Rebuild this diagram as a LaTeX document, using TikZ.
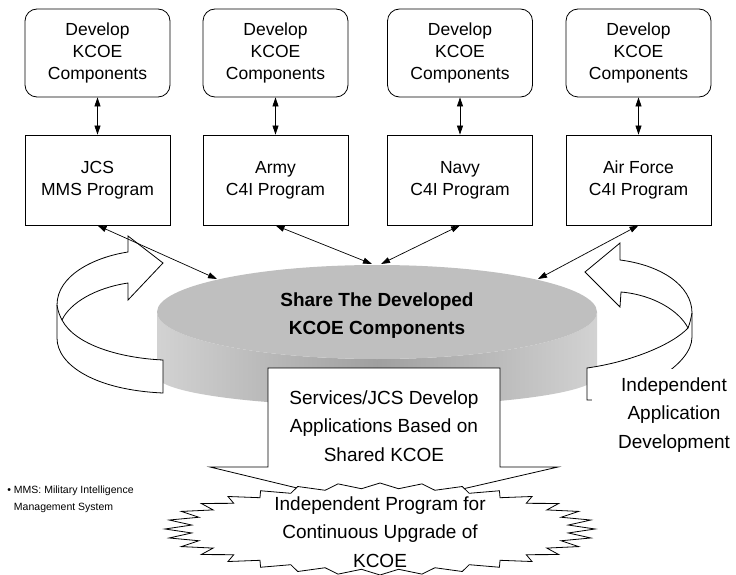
\documentclass[tikz,border=0pt]{standalone}
\usepackage{fontspec}
\setmainfont{Liberation Sans}
\usetikzlibrary{arrows.meta}

\tikzset{
  devbox/.style={draw, rounded corners=12pt, minimum width=145pt, minimum height=88pt, align=center, font=\fontsize{17.5}{22}\selectfont},
  progbox/.style={draw, minimum width=145pt, minimum height=90pt, align=center, font=\fontsize{17.5}{22}\selectfont},
  link/.style={<->, line width=0.7pt},
  ribbon/.style={draw, fill=white},
  bigtext/.style={align=center, font=\fontsize{19}{28.5}\selectfont},
}

\begin{document}
\begin{tikzpicture}[x=1pt, y=-1pt, line width=0.8pt, >={Triangle[length=9pt,width=6pt]}]
        \useasboundingbox (0,0) rectangle (736,575);
        \node[devbox] (dev1) at (97.5,53) {Develop\\KCOE\\Components};
        \node[devbox] (dev2) at (275.5,53) {Develop\\KCOE\\Components};
        \node[devbox] (dev3) at (460,53) {Develop\\KCOE\\Components};
        \node[devbox] (dev4) at (638.5,53) {Develop\\KCOE\\Components};
        \node[progbox] (jcs) at (97.5,180) {JCS\\MMS Program};
        \node[progbox] (army) at (275.5,180) {Army\\C4I Program};
        \node[progbox] (navy) at (460,180) {Navy\\C4I Program};
        \node[progbox] (af) at (638.5,180) {Air Force\\C4I Program};
        \draw[link] (dev1) -- (jcs);
        \draw[link] (dev2) -- (army);
        \draw[link] (dev3) -- (navy);
        \draw[link] (dev4) -- (af);
        % the shared disk
        \shade[left color=gray!35, right color=gray!35, middle color=gray!75] (157,312) -- (157,376) arc[start angle=180, end angle=360, x radius=220pt, y radius=30pt] -- (597,312) arc[start angle=360, end angle=180, x radius=220pt, y radius=47pt] -- cycle;
        \fill[gray!50] (377,312) ellipse[x radius=220pt, y radius=47pt];
        \node[align=center, font=\fontsize{19}{28}\selectfont\bfseries] (share) at (377,316) {Share The Developed\\KCOE Components};
        \coordinate (dj) at (217,279);
        \coordinate (da) at (372,264);
        \coordinate (dn) at (381,264);
        \coordinate (df) at (538,279);
        % turning arrows
        \draw[ribbon] (163,393) .. controls (95,390) and (57,365) .. (57,338) -- (57,305) .. controls (57,275) and (95,257) .. (128,252) -- (128,236) -- (163,263) -- (128,300) -- (128,283) .. controls (95,288) and (70,303) .. (62,320) .. controls (75,345) and (120,358) .. (163,360) -- cycle;
        \draw (57,305) .. controls (58,312) and (60,316) .. (62,320);
        \draw[ribbon] (587,400) -- (587,368) .. controls (630,362) and (672,345) .. (688,328) .. controls (680,312) and (655,295) .. (621,292) -- (620,307) -- (585,272) -- (620,243) -- (620,260) .. controls (660,265) and (692,285) .. (692,313) -- (692,337) .. controls (692,365) and (640,395) .. (592,400) -- cycle;
        \draw (692,313) .. controls (691,318) and (690,323) .. (688,328);
        \draw[link] (jcs.south) -- (dj);
        \draw[link] (army.south) -- (da);
        \draw[link] (navy.south) -- (dn);
        \draw[link] (af.south) -- (df);
        \node[bigtext, fill=white, minimum width=164pt, minimum height=92pt, inner sep=0pt] (indep) at (674,415) {Independent\\Application\\Development};
        % callout and burst
        \draw[fill=white] (268,467) -- (268,368) -- (500,368) -- (500,467) -- (558,467) -- (380,508) -- (210,467) -- cycle;
        \node[bigtext] (svc) at (384,426) {Services/JCS Develop\\Applications Based on\\Shared KCOE};
        \begin{scope}[shift={(380,529)}, x=215pt, y=-46pt]
        \draw[fill=white] (0:1) \foreach \k in {1,...,63} {-- (\k*5.625:{1-0.12*mod(\k,2)})} -- cycle;
        \end{scope}
        \node[bigtext] (burst) at (380,532) {Independent Program for\\Continuous Upgrade of\\KCOE};
        \node[anchor=west, align=left, inner sep=0pt, font=\fontsize{10.5}{17}\selectfont] (note) at (7,499) {\textbullet\ MMS: Military Intelligence\\\phantom{\textbullet\ }Management System};
\end{tikzpicture}
\end{document}
